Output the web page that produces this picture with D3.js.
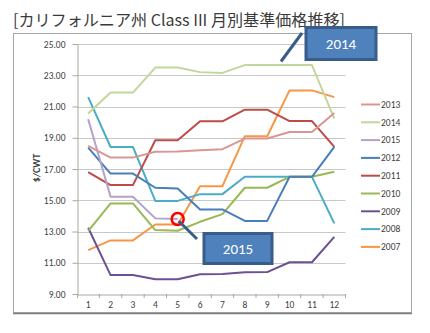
<!DOCTYPE html>
<html><head><meta charset="utf-8">
<script src="https://cdn.jsdelivr.net/npm/d3@7"></script>
<style>body{margin:0;background:#fff}svg{display:block}</style>
</head><body>
<svg id="c" width="430" height="333"></svg>
<script>
const months = [1,2,3,4,5,6,7,8,9,10,11,12];
const yTicks = [9,11,13,15,17,19,21,23,25];
const seriesNames = ["2013","2014","2015","2012","2011","2010","2009","2008","2007"];
const seriesColors = ["#d99694","#c3d69b","#b3a2c7","#4a7ebb","#be4b48","#98b954","#6b5192","#4bacc6","#f79646"];
const v2013 = [18.48,17.73,17.73,18.10,18.12,18.20,18.27,18.95,18.95,19.37,19.37,20.58];
const v2014 = [20.55,21.89,21.89,23.49,23.49,23.20,23.15,23.65,23.65,23.65,23.65,20.22];
const v2015 = [20.18,15.22,15.22,13.84,13.80];
const v2012 = [18.37,16.71,16.71,15.80,15.75,14.41,14.41,13.68,13.68,16.50,16.50,18.41];
const v2011 = [16.80,15.97,15.97,18.84,18.84,20.05,20.05,20.80,20.80,20.07,20.07,18.41];
const v2010 = [13.03,14.80,14.80,13.09,13.05,13.62,14.11,15.80,15.80,16.50,16.50,16.82];
const v2009 = [13.24,10.21,10.21,9.94,9.94,10.26,10.28,10.39,10.40,11.03,11.03,12.66];
const v2008 = [21.60,18.41,18.41,14.96,14.96,15.39,15.39,16.50,16.50,16.50,16.50,13.52];
const v2007 = [11.81,12.43,12.43,13.45,13.45,15.90,15.90,19.10,19.10,22.03,22.03,21.60];
const seriesValues = [v2013,v2014,v2015,v2012,v2011,v2010,v2009,v2008,v2007];
const titleText = "[カリフォルニア州 Class III 月別基準価格推移]";
const yTitle = "$/CWT";

const svg = d3.select("#c");
const font = "Calibri, Carlito, 'Liberation Sans', 'Noto Sans CJK JP', sans-serif";

// chart border
svg.append("rect").attr("x",13.5).attr("y",33.5).attr("width",398).attr("height",279)
  .attr("fill","#fff").attr("stroke","#a6a6a6").attr("stroke-width",1);
svg.append("line").attr("x1",13).attr("x2",412).attr("y1",313.5).attr("y2",313.5).attr("stroke","#7f7f7f").attr("stroke-width",1.5);

// title
svg.append("text").attr("x",13).attr("y",26).text(titleText)
  .attr("font-family","'Noto Sans CJK JP', sans-serif").attr("font-size",16).attr("fill","#3a3a3a")
  .attr("textLength",332).attr("lengthAdjust","spacingAndGlyphs");

const x = d3.scaleBand().domain(months).range([77,345.5]);
const y = d3.scaleLinear().domain([9,25]).range([294,44]);

// grid
svg.append("g").selectAll("line").data(yTicks.slice(1)).join("line")
  .attr("x1",77).attr("x2",345.5).attr("y1",d=>Math.round(y(d))+0.5).attr("y2",d=>Math.round(y(d))+0.5)
  .attr("stroke","#c8c8c8").attr("stroke-width",1);

// y axis
const ya = svg.append("g").attr("transform","translate(77.5,0)")
  .call(d3.axisLeft(y).tickValues(yTicks).tickFormat(d3.format(".2f")).tickSize(5).tickSizeOuter(0));
ya.select(".domain").attr("stroke","#a6a6a6");
ya.selectAll(".tick line").attr("stroke","#a6a6a6");
ya.selectAll("text").attr("font-family",font).attr("font-size",9.5).attr("fill","#404040").attr("x",-12);

// x axis
const xa = svg.append("g").attr("transform","translate(0,294.5)")
  .call(d3.axisBottom(x).tickSize(0).tickSizeOuter(0));
xa.select(".domain").attr("stroke","#a6a6a6");
xa.selectAll(".tick line").remove();
xa.selectAll("text").attr("font-family",font).attr("font-size",9.5).attr("fill","#404040").attr("dy","0.71em").attr("y",7);
// boundary ticks
svg.append("g").selectAll("line").data(months).join("line")
  .attr("x1",d=>x(d)+x.bandwidth()).attr("x2",d=>x(d)+x.bandwidth())
  .attr("y1",294).attr("y2",298).attr("stroke","#a6a6a6");
svg.append("line").attr("x1",77.5).attr("x2",77.5).attr("y1",294).attr("y2",298).attr("stroke","#a6a6a6");

// y title
svg.append("text").attr("transform","translate(40,168) rotate(-90)").attr("text-anchor","middle")
  .text(yTitle).attr("font-family",font).attr("font-size",10).attr("font-weight","bold").attr("fill","#404040");

// lines
const line = d3.line().x((d,i)=>x(months[i])+x.bandwidth()/2).y(d=>y(d));
const order = [8,7,6,5,4,3,2,1,0];
svg.append("g").selectAll("path").data(order).join("path")
  .attr("d",i=>line(seriesValues[i])).attr("fill","none")
  .attr("stroke",i=>seriesColors[i]).attr("stroke-width",2).attr("stroke-linejoin","round");

// legend
const lg = svg.append("g").selectAll("g").data(seriesNames).join("g")
  .attr("transform",(d,i)=>`translate(361,${104.5+i*17.8})`);
lg.append("line").attr("x1",0).attr("x2",19).attr("stroke",(d,i)=>seriesColors[i]).attr("stroke-width",2);
lg.append("text").attr("x",20).attr("dy","0.35em").text(d=>d)
  .attr("font-family",font).attr("font-size",9.5).attr("fill","#404040");

// 2015 callout
const p15x = x(5)+x.bandwidth()/2, p15y = y(v2015[4]);
svg.append("circle").attr("cx",p15x).attr("cy",p15y).attr("r",6).attr("fill","none").attr("stroke","#ff0000").attr("stroke-width",2.5);
svg.append("line").attr("x1",p15x+1).attr("y1",p15y+2).attr("x2",197).attr("y2",239).attr("stroke","#385d8a").attr("stroke-width",3);
svg.append("rect").attr("x",204).attr("y",233.5).attr("width",68).attr("height",30)
  .attr("fill","#4f81bd").attr("stroke","#385d8a").attr("stroke-width",3);
svg.append("text").attr("x",238).attr("y",249).attr("text-anchor","middle").attr("dy","0.35em")
  .text(seriesNames[2]).attr("font-family",font).attr("font-size",15).attr("fill","#fff");

// 2014 callout
svg.append("line").attr("x1",302).attr("y1",33).attr("x2",281).attr("y2",61.5).attr("stroke","#385d8a").attr("stroke-width",3);
svg.append("rect").attr("x",306).attr("y",27.5).attr("width",70).attr("height",32)
  .attr("fill","#4f81bd").attr("stroke","#385d8a").attr("stroke-width",3);
svg.append("text").attr("x",341).attr("y",44).attr("text-anchor","middle").attr("dy","0.35em")
  .text(seriesNames[1]).attr("font-family",font).attr("font-size",15).attr("fill","#fff");
</script>
</body></html>
